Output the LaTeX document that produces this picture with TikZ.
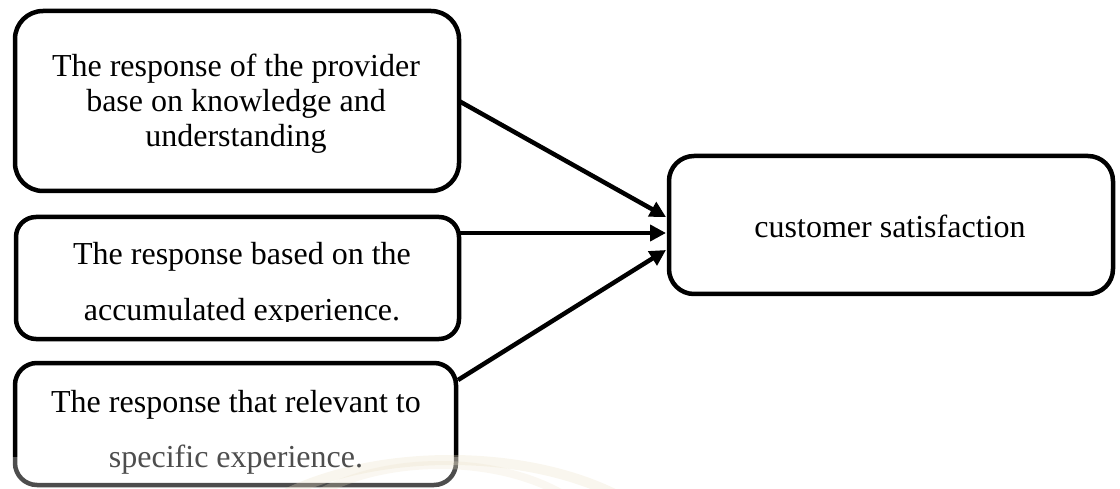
\documentclass[tikz,border=0pt]{standalone}
\usepackage{fontspec}
\setmainfont{Liberation Serif}
\usetikzlibrary{arrows.meta,calc}
\definecolor{wmark}{RGB}{236,226,200}
\definecolor{greytext}{RGB}{78,78,78}
\begin{document}
\begin{tikzpicture}[x=1pt,y=-1pt,
  box/.style={draw=black, line width=4.5pt, rounded corners=#1, outer sep=0pt, inner sep=0pt, anchor=north west},
  box/.default=22pt,
  txt/.style={anchor=base, inner sep=0pt, font=\fontsize{32}{35}\selectfont},
  conn/.style={line width=4.5pt, -{Triangle[length=16pt,width=16pt]}}]
\useasboundingbox (0,0) rectangle (1120,489);
% boxes
\node[box=28pt, minimum width=444pt, minimum height=180pt] (b1) at (15,11) {};
\node[box=20pt, minimum width=443pt, minimum height=122pt] (b2) at (16,217) {};
\node[box=22pt, minimum width=441pt, minimum height=122pt] (b3) at (15,363) {};
\node[box=25pt, minimum width=444pt, minimum height=138pt] (b4) at (669,156) {};
% faint watermark at the bottom
\begin{scope}
\clip (0,0) rectangle (1120,489);
\fill[white, opacity=0.3] (0,457) rectangle (1120,489);
\draw[wmark, opacity=0.3, line width=10pt] (450,585) ellipse [x radius=240pt, y radius=125pt];
\draw[wmark, opacity=0.25, line width=8pt] (440,560) ellipse [x radius=170pt, y radius=95pt];
\end{scope}
% texts
\node[txt] (t11) at (236,77) {The response of the provider};
\node[txt] (t12) at (236,112) {base on knowledge and};
\node[txt] (t13) at (236,147) {understanding};
\node[txt] (t21) at (242,265) {The response based on the};
\begin{scope}
\clip (0,0) rectangle (1120,322);
\node[txt] (t22) at (242,320) {accumulated experience.};
\end{scope}
\node[txt] (t31) at (236,412) {The response that relevant to};
\node[txt, text=greytext] (t32) at (236,467) {specific experience.};
\node[txt] (t4) at (890,238) {customer satisfaction};
% connectors
\draw[conn] (b1.east) -- ($(b4.west)+(-3,-8)$);
\draw[conn] ($(b2.north east)+(0,16)$) -- ($(b4.west)+(-3,8)$);
\draw[conn] ($(b3.north east)+(2,17)$) -- ($(b4.west)+(-3,25)$);
\end{tikzpicture}
\end{document}
